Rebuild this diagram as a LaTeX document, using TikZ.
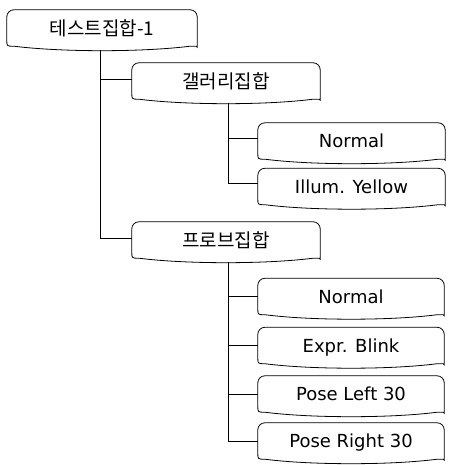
\documentclass[tikz,border=0pt]{standalone}
\usepackage{fontspec}
\setmainfont{DejaVu Sans}
\newfontfamily\kr{Noto Sans CJK KR}
\usetikzlibrary{calc}
\begin{document}
\begin{tikzpicture}[x=1pt,y=-1pt,
  box/.style={minimum width=#1, minimum height=36pt, inner sep=0pt,
    font=\fontsize{18}{20}\selectfont, text height=13pt, text depth=0pt},
  krbox/.style={box=#1, font=\kr\fontsize{19}{21}\selectfont, text height=14.4pt},
  boxline/.style={draw=black, line width=0.8pt},
  conn/.style={draw=black, line width=0.8pt}]
\useasboundingbox (0,0) rectangle (448,465);
% nodes
\node[krbox=190pt] (root) at (102,28) {테스트집합-1};
\node[krbox=188pt] (gal) at (226,81) {갤러리집합};
\node[box=187pt] (gn) at (351.5,141) {Normal};
\node[box=187pt] (gi) at (351.5,186.5) {Illum. Yellow};
\node[krbox=188pt] (pro) at (226,240) {프로브집합};
\node[box=186pt] (pn) at (351,296.5) {Normal};
\node[box=186pt] (pe) at (351,345.5) {Expr. Blink};
\node[box=186pt] (pl) at (351,394) {Pose Left 30};
\node[box=186pt] (pr) at (351,441) {Pose Right 30};
% connectors
\draw[conn] ([xshift=-2pt,yshift=-4pt]root.south) |- ([yshift=2pt]gal.west);
\draw[conn] ([xshift=-2pt,yshift=-4pt]root.south) |- ([yshift=2pt]pro.west);
\draw[conn] ([xshift=2pt,yshift=-4pt]gal.south) |- ([yshift=3pt]gn.west);
\draw[conn] ([xshift=2pt,yshift=-4pt]gal.south) |- ([yshift=3pt]gi.west);
\draw[conn] ([xshift=2pt,yshift=-4pt]pro.south) |- (pn.west);
\draw[conn] ([xshift=2pt,yshift=-4pt]pro.south) |- (pe.west);
\draw[conn] ([xshift=2pt,yshift=-4pt]pro.south) |- (pl.west);
\draw[conn] ([xshift=2pt,yshift=-4pt]pro.south) |- (pr.west);
% box outlines
\foreach \n in {root,gal,gn,gi,pro,pn,pe,pl,pr}{
  \draw[boxline] ($(\n.south west)+(0,-6)$) [rounded corners=7pt] -- (\n.north west) -- (\n.north east) -- ($(\n.south east)+(0,-6)$) [sharp corners]
    .. controls (\n.south east) .. ($(\n.south east)+(-7,0)$)
    .. controls ($(\n.south)+(40,6)$) and ($(\n.south)+(-40,6)$) .. ($(\n.south west)+(7,0)$)
    .. controls (\n.south west) .. cycle;
}
\end{tikzpicture}
\end{document}
